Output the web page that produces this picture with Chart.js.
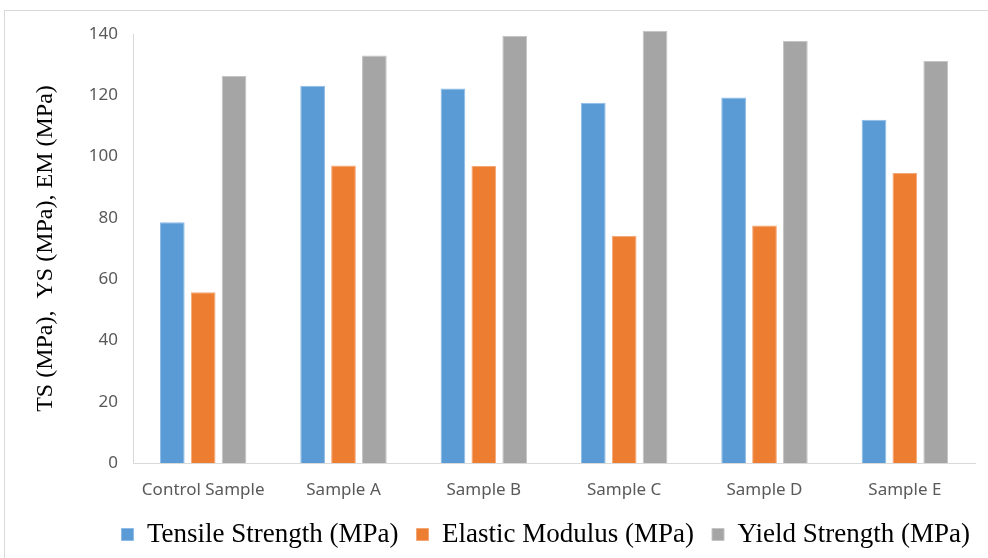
<!DOCTYPE html>
<html>
<head>
<meta charset="utf-8">
<script src="https://cdn.jsdelivr.net/npm/chart.js@4.4.1/dist/chart.umd.min.js"></script>
<style>
  html, body { margin: 0; padding: 0; background: #fff; }
  #wrap { position: relative; width: 988px; height: 558px; }
  #frame { position: absolute; left: 4px; top: 10px; right: 0; bottom: 0; border-left: 1px solid #d9d9d9; border-top: 1px solid #d9d9d9; pointer-events: none; }
</style>
</head>
<body>
<div id="wrap">
  <canvas id="myChart" width="988" height="558"></canvas>
  <div id="frame"></div>
</div>
<script>
// dữ liệu
const categories = ['Control Sample', 'Sample A', 'Sample B', 'Sample C', 'Sample D', 'Sample E'];
const tensileStrength = [78.6, 123.1, 122.2, 117.6, 119.3, 112.0];
const elasticModulus = [55.7, 97.1, 96.9, 74.2, 77.5, 94.6];
const yieldStrength = [126.3, 133.0, 139.4, 141.1, 137.7, 131.2];

document.addEventListener('DOMContentLoaded', function() {
    const ctx = document.getElementById('myChart').getContext('2d');
    const legendGap = 18; // khoảng cách giữa các mục chú thích

    new Chart(ctx, {
        type: 'bar',
        data: {
            labels: categories,
            datasets: [{
                label: 'Tensile Strength (MPa)',
                data: tensileStrength,
                backgroundColor: '#5B9BD5',
                borderColor: '#8dbbe6',
                borderWidth: 1
            }, {
                label: 'Elastic Modulus (MPa)',
                data: elasticModulus,
                backgroundColor: '#ED7D31',
                borderColor: '#f4a774',
                borderWidth: 1
            }, {
                label: 'Yield Strength (MPa)',
                data: yieldStrength,
                backgroundColor: '#A5A5A5',
                borderColor: '#c4c4c4',
                borderWidth: 1
            }]
        },
        options: {
            responsive: false,
            animation: false,
            layout: {
                padding: { top: 34, right: 0, left: 0, bottom: 0 }
            },
            datasets: {
                bar: { categoryPercentage: 0.66, barPercentage: 0.8, clip: false }
            },
            plugins: {
                legend: {
                    position: 'bottom',
                    align: 'end',
                    labels: {
                        boxWidth: 12,
                        boxHeight: 12,
                        padding: legendGap,
                        color: '#000',
                        font: { family: '"Liberation Serif", "Times New Roman", serif', size: 27 }
                    }
                },
                tooltip: { enabled: false }
            },
            scales: {
                x: {
                    grid: { display: false, drawTicks: false },
                    border: { color: '#d9d9d9', width: 1 },
                    ticks: {
                        padding: 17,
                        color: '#595959',
                        font: { family: '"Noto Sans", sans-serif', size: 17 }
                    },
                    afterFit: function(scale) {
                        scale.height = 40;
                    }
                },
                y: {
                    min: 0,
                    max: 140,
                    grid: { display: false, drawTicks: false },
                    border: { color: '#d9d9d9', width: 1 },
                    ticks: {
                        stepSize: 20,
                        padding: 15,
                        color: '#595959',
                        font: { family: '"Noto Sans", sans-serif', size: 17 }
                    },
                    title: {
                        display: true,
                        text: 'TS (MPa),  YS (MPa), EM (MPa)',
                        color: '#000',
                        padding: { top: 31, bottom: 0 },
                        font: { family: '"Liberation Serif", "Times New Roman", serif', size: 24 }
                    },
                    afterFit: function(scale) {
                        scale.width = 133;
                    }
                },
                // trục phụ bên phải chỉ để chừa khoảng trống
                yRight: {
                    position: 'right',
                    grid: { display: false, drawTicks: false },
                    border: { display: false },
                    ticks: { display: false },
                    afterFit: function(scale) {
                        scale.width = 13;
                    }
                }
            }
        }
    });
});
</script>
</body>
</html>
